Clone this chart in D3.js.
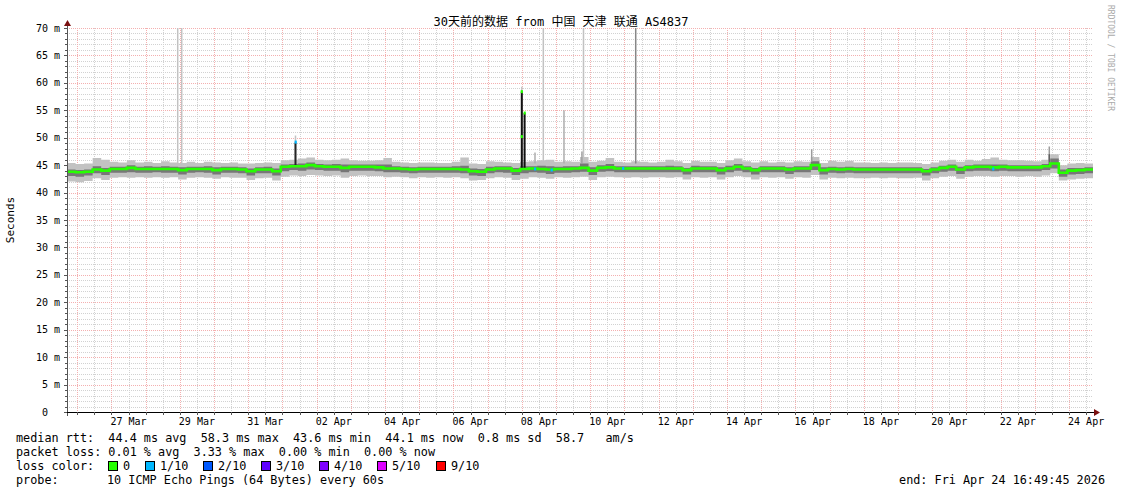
<!DOCTYPE html>
<html><head><meta charset="utf-8">
<script src="https://cdn.jsdelivr.net/npm/d3@7"></script>
<style>
html,body{margin:0;padding:0;background:#fff;}
svg text{font-family:"DejaVu Sans Mono",monospace;white-space:pre;}
</style></head><body>
<svg id="chart" width="1121" height="494"></svg>
<script>
// ---------------- DATA ----------------
const titleText = "30天前的数据 from 中国 天津 联通 AS4837";
const endStamp = [2026, 3, 24, 16, 49, 45];   // Fri Apr 24 16:49:45 2026
const spanDays = 30;
const sampleStepHours = 6;

const yTickValues = [0,5,10,15,20,25,30,35,40,45,50,55,60,65,70];
const yTickLabels = ["0  ","5 m","10 m","15 m","20 m","25 m","30 m","35 m","40 m","45 m","50 m","55 m","60 m","65 m","70 m"];
const xTickDates  = ["2026-03-27","2026-03-29","2026-03-31","2026-04-02","2026-04-04","2026-04-06","2026-04-08","2026-04-10","2026-04-12","2026-04-14","2026-04-16","2026-04-18","2026-04-20","2026-04-22","2026-04-24"];
const xTickLabels = ["27 Mar","29 Mar","31 Mar","02 Apr","04 Apr","06 Apr","08 Apr","10 Apr","12 Apr","14 Apr","16 Apr","18 Apr","20 Apr","22 Apr","24 Apr"];

// median rtt per 6-hour sample (ms)
const median = [
43.8,43.7,43.8,44.2,44.0,44.3,44.3,44.5,44.3,44.3,
44.3,44.3,44.3,44.1,44.3,44.3,44.3,44.1,44.3,44.3,
44.2,43.9,44.2,44.2,43.9,44.7,44.8,44.8,45.0,44.8,
44.7,44.7,44.5,44.7,44.7,44.7,44.6,44.4,44.4,44.3,
44.2,44.3,44.3,44.3,44.3,44.3,44.2,43.9,43.8,44.2,
44.4,44.4,44.0,44.3,44.4,44.3,44.2,44.3,44.3,44.4,
44.5,44.0,44.5,44.6,44.4,44.4,44.4,44.4,44.4,44.4,
44.4,44.4,44.1,44.4,44.4,44.4,44.1,44.4,44.7,44.4,
44.1,44.4,44.4,44.4,44.2,44.4,44.4,45.0,44.1,44.3,
44.2,44.3,44.2,44.2,44.2,44.2,44.2,44.2,44.2,44.2,
43.9,44.2,44.5,44.7,44.2,44.6,44.7,44.7,44.6,44.7,
44.6,44.6,44.6,44.6,44.8,45.3,43.6,44.0,44.1,44.2];
// fastest ping per sample
const smokeMin = [
42.0,41.9,42.1,42.6,42.3,42.7,42.8,42.7,42.8,42.7,
42.8,42.7,42.8,42.4,42.7,42.8,42.7,42.5,42.8,42.7,
42.7,42.3,42.6,42.7,42.2,42.9,43.1,43.0,43.2,43.1,
43.0,43.1,42.7,43.0,43.1,43.0,43.0,42.8,42.9,42.8,
42.6,42.8,42.7,42.8,42.7,42.8,42.6,42.2,42.3,42.6,
42.8,42.7,42.3,42.5,42.8,42.7,42.5,42.8,42.7,42.8,
42.9,42.3,42.8,42.9,42.8,42.7,42.8,42.7,42.8,42.8,
42.7,42.8,42.4,42.8,42.7,42.8,42.4,42.8,43.0,42.8,
42.4,42.8,42.7,42.8,42.5,42.8,42.7,43.2,42.4,42.7,
42.6,42.7,42.6,42.6,42.7,42.6,42.7,42.6,42.6,42.7,
42.2,42.6,42.9,43.0,42.5,42.9,43.0,43.0,42.9,43.0,
43.0,42.9,43.0,42.9,43.1,43.5,42.2,42.4,42.5,42.6];
// slowest ping per sample
const smokeMax = [
45.4,45.2,45.3,46.3,46.0,45.6,45.5,45.9,45.5,45.6,
45.4,45.7,45.5,45.4,45.6,45.4,45.6,45.5,45.4,45.5,
45.3,45.3,45.4,45.5,45.4,45.9,46.0,46.2,46.4,46.0,
45.9,46.0,46.2,45.9,45.8,45.8,45.9,46.3,45.6,45.5,
45.4,45.5,45.5,45.4,45.4,45.6,46.4,45.3,45.2,45.7,
45.6,45.5,45.4,45.6,45.7,45.9,46.0,45.6,45.7,45.6,
46.5,45.6,45.8,46.3,45.6,45.5,45.7,45.6,45.5,45.6,
46.0,45.7,45.4,45.8,45.6,45.6,45.4,45.9,46.2,45.7,
45.5,45.7,45.5,45.6,45.5,45.7,45.6,46.5,45.4,45.8,
45.6,45.8,45.5,45.5,45.4,45.5,45.4,45.5,45.5,45.4,
45.2,45.5,45.8,46.0,45.6,46.0,45.8,46.1,46.4,46.0,
45.9,45.9,45.8,45.7,46.0,47.0,45.0,45.3,45.4,45.3];
// lower / upper edge of the dense part of the pings
const coreLow = [
43.0,42.9,43.1,43.5,43.2,43.6,43.6,43.7,43.6,43.6,
43.7,43.6,43.6,43.3,43.6,43.7,43.6,43.3,43.6,43.6,
43.5,43.1,43.5,43.5,43.1,43.9,44.1,44.0,44.2,44.1,
44.0,44.0,43.7,44.0,44.0,44.0,43.9,43.7,43.7,43.6,
43.5,43.6,43.6,43.6,43.6,43.6,43.5,43.1,43.0,43.5,
43.7,43.6,43.2,43.5,43.7,43.6,43.4,43.6,43.6,43.7,
43.8,43.2,43.8,43.9,43.7,43.7,43.7,43.7,43.7,43.7,
43.7,43.7,43.3,43.7,43.7,43.7,43.3,43.7,44.0,43.7,
43.3,43.7,43.7,43.7,43.4,43.7,43.7,44.1,43.3,43.6,
43.5,43.6,43.5,43.5,43.5,43.5,43.5,43.5,43.5,43.5,
43.1,43.5,43.8,44.0,43.4,43.9,44.0,44.0,43.9,44.0,
43.9,43.9,43.9,43.9,44.1,44.4,42.9,43.3,43.4,43.5];
const coreHigh = [
44.2,44.1,44.2,44.8,44.5,44.7,44.7,45.0,44.7,44.8,
44.7,44.8,44.7,44.6,44.7,44.7,44.8,44.6,44.7,44.7,
44.6,44.4,44.6,44.7,44.4,45.1,45.2,45.3,45.5,45.2,
45.1,45.2,45.1,45.1,45.1,45.1,45.1,45.1,44.8,44.7,
44.6,44.7,44.7,44.7,44.7,44.8,44.9,44.4,44.3,44.7,
44.8,44.8,44.5,44.8,44.8,44.9,44.8,44.7,44.8,44.8,
45.3,44.6,45.0,45.2,44.8,44.8,44.8,44.8,44.8,44.8,
44.9,44.8,44.5,44.9,44.8,44.8,44.6,44.9,45.2,44.8,
44.5,44.8,44.8,44.8,44.6,44.8,44.8,45.7,44.6,44.7,
44.6,44.7,44.6,44.6,44.6,44.6,44.6,44.6,44.6,44.6,
44.3,44.6,44.9,45.1,44.7,45.0,45.1,45.1,45.1,45.1,
45.0,45.0,45.0,45.0,45.2,46.2,44.2,44.5,44.5,44.6];

// short outliers: time (days after start), base, top (ms), pings involved
const spikeDay   = [3.237,3.354,6.681,6.681,13.298,13.298,13.380,13.684,13.927,14.532,15.058,15.102,16.629,21.775,28.722,28.722];
const spikeBase  = [45.2,45.2,45.6,45.0,45.0,44.2,44.2,45.3,45.4,45.3,45.4,45.4,45.3,45.6,45.8,45.0];
const spikeTop   = [75,75,50.4,49.1,59.3,58.4,54.5,47.3,75,55.0,47.5,75,75,47.9,48.4,47.0];
const spikePings = [1,1,1,9,1,10,10,2,1,2,3,1,4,3,3,6];

// median marks shown in loss colour
const markDay   = [6.684,13.295,13.295,13.380,13.684,14.170,16.260,27.080];
const markValue = [49.2,58.4,50.2,54.5,44.3,44.1,44.4,44.3];
const markLoss  = [1,0,0,0,1,1,1,1];

const lossLabels = ["0","1/10","2/10","3/10","4/10","5/10","9/10"];
const lossColors = ["#26ff00","#00b8ff","#0059ff","#5e00ff","#7e00ff","#dd00ff","#ff0000"];

const rttStats  = ["44.4","58.3","43.6","44.1","0.8","58.7"];
const lossStats = ["0.01","3.33","0.00","0.00"];
const probeText = "10 ICMP Echo Pings (64 Bytes) every 60s";
const endText   = "end: Fri Apr 24 16:49:45 2026";

// ---------------- CHART ----------------
const svg = d3.select("#chart");
const L = 67, R = 1093, T = 28, B = 412;
const endTime = new Date(Date.UTC(...endStamp));
const startTime = new Date(endTime.getTime() - spanDays * 864e5);
const dayMs = 864e5;
const x = d3.scaleUtc().domain([startTime, endTime]).range([L, R]);
const y = d3.scaleLinear().domain([0, 70]).range([B, T]);
const tOf = d => new Date(startTime.getTime() + d * dayMs);

svg.append("rect").attr("width",1121).attr("height",494).attr("fill","#fff");

// grid
const g = svg.append("g").attr("shape-rendering","crispEdges");
d3.range(0, 71, 1).filter(v => v % 5 !== 0).forEach(v => {
  g.append("line").attr("x1",L).attr("x2",R).attr("y1",Math.round(y(v))+0.5).attr("y2",Math.round(y(v))+0.5)
   .attr("stroke","#d2d2d2").attr("stroke-dasharray","1,1");
});
const noons = d3.utcDay.range(startTime, endTime).map(d => d3.utcHour.offset(d, 12)).filter(d => d > startTime && d < endTime);
const nights = d3.utcDay.range(startTime, endTime).filter(d => d > startTime);
noons.forEach(d => {
  g.append("line").attr("y1",T).attr("y2",B).attr("x1",Math.round(x(d))+0.5).attr("x2",Math.round(x(d))+0.5)
   .attr("stroke","#d2d2d2").attr("stroke-dasharray","1,1");
});
yTickValues.filter(v => v > 0).forEach(v => {
  g.append("line").attr("x1",L).attr("x2",R).attr("y1",Math.round(y(v))+0.5).attr("y2",Math.round(y(v))+0.5)
   .attr("stroke","#f4b0b0").attr("stroke-dasharray","1,1");
});
nights.forEach(d => {
  g.append("line").attr("y1",T).attr("y2",B).attr("x1",Math.round(x(d))+0.5).attr("x2",Math.round(x(d))+0.5)
   .attr("stroke","#f4b0b0").attr("stroke-dasharray","1,1");
});

// data
svg.append("clipPath").attr("id","clip").append("rect").attr("x",L).attr("y",T).attr("width",R-L).attr("height",B-T);
const data = svg.append("g").attr("clip-path","url(#clip)");
const pts = median.map((m,i) => ({t: new Date(startTime.getTime() + i*sampleStepHours*36e5), m, lo: smokeMin[i], hi: smokeMax[i], cl: coreLow[i], ch: coreHigh[i]}));
pts.push(Object.assign({}, pts[pts.length-1], {t: endTime}));

data.append("path").datum(pts)
  .attr("d", d3.area().curve(d3.curveStepAfter).x(d => x(d.t)).y0(d => y(d.lo)).y1(d => y(d.hi)))
  .attr("fill","#c2c2c2");
data.append("path").datum(pts)
  .attr("d", d3.area().curve(d3.curveStepAfter).x(d => x(d.t)).y0(d => y(d.cl)).y1(d => y(d.ch)))
  .attr("fill","#777777");

const pingShade = d3.scaleLinear().domain([1, 10]).range(["#c2c2c2", "#111111"]);
spikeDay.forEach((d,i) => {
  const xs = x(tOf(d));
  const w = spikePings[i] >= 9 ? 2 : 1.5;
  data.append("rect").attr("x", xs - w/2).attr("width", w)
    .attr("y", y(spikeTop[i])).attr("height", y(spikeBase[i]) - y(spikeTop[i]))
    .attr("fill", pingShade(spikePings[i]));
});

data.append("path").datum(pts)
  .attr("d", d3.line().curve(d3.curveStepAfter).x(d => x(d.t)).y(d => y(d.m)))
  .attr("fill","none").attr("stroke", lossColors[0]).attr("stroke-width", 2.6);

markDay.forEach((d,i) => {
  data.append("rect").attr("x", x(tOf(d)) - 1).attr("width", 2.2)
    .attr("y", y(markValue[i]) - 1.5).attr("height", 3)
    .attr("fill", lossColors[markLoss[i]]);
});

// axes
const ax = svg.append("g").attr("shape-rendering","crispEdges");
ax.append("line").attr("x1",L+0.5).attr("x2",L+0.5).attr("y1",B+4).attr("y2",T-6).attr("stroke","#555");
ax.append("line").attr("x1",L-3).attr("x2",R+2).attr("y1",B+0.5).attr("y2",B+0.5).attr("stroke","#000");
d3.range(0, 71, 1).forEach(v => {
  const len = v % 5 === 0 ? 3 : 2;
  ax.append("line").attr("x1",L-len).attr("x2",L).attr("y1",Math.round(y(v))+0.5).attr("y2",Math.round(y(v))+0.5).attr("stroke","#555");
});
noons.concat(nights).forEach(d => {
  ax.append("line").attr("y1",B).attr("y2",B+3).attr("x1",Math.round(x(d))+0.5).attr("x2",Math.round(x(d))+0.5).attr("stroke","#555");
});
svg.append("path").attr("d",`M${L-3},${T-2} L${L+4},${T-2} L${L+0.5},${T-8} Z`).attr("fill","#7a1010");
svg.append("path").attr("d",`M${R+1},${B-3} L${R+1},${B+4} L${R+7},${B+0.5} Z`).attr("fill","#7a1010");

// tick labels
yTickValues.forEach((v,i) => {
  svg.append("text").attr("x",60).attr("y",y(v)+3.5).attr("text-anchor","end")
    .attr("font-size","10px").attr("fill","#000").text(yTickLabels[i]);
});
xTickDates.forEach((s,i) => {
  const d = d3.utcHour.offset(new Date(s + "T00:00:00Z"), 12);
  svg.append("text").attr("x",x(d)).attr("y",425).attr("text-anchor","middle")
    .attr("font-size","10px").attr("fill","#000").text(xTickLabels[i]);
});

// title / labels
svg.append("text").attr("x",561).attr("y",26).attr("text-anchor","middle")
  .attr("font-size","12px").style("font-family",'"DejaVu Sans Mono","Noto Sans CJK SC",monospace')
  .attr("fill","#000").text(titleText);
svg.append("text").attr("transform","translate(14,220) rotate(-90)").attr("text-anchor","middle")
  .attr("font-size","11px").attr("fill","#000").text("Seconds");
svg.append("text").attr("transform","translate(1108,5) rotate(90)").attr("text-anchor","start")
  .attr("font-size","8px").attr("fill","#aaa").text("RRDTOOL / TOBI OETIKER");

// legend
const lf = "11.8px";
svg.append("text").attr("x",16).attr("y",442).attr("font-size",lf).attr("fill","#000")
  .text(`median rtt:  ${rttStats[0]} ms avg  ${rttStats[1]} ms max  ${rttStats[2]} ms min  ${rttStats[3]} ms now  ${rttStats[4]} ms sd  ${rttStats[5]}   am/s`);
svg.append("text").attr("x",16).attr("y",456).attr("font-size",lf).attr("fill","#000")
  .text(`packet loss: ${lossStats[0]} % avg  ${lossStats[1]} % max  ${lossStats[2]} % min  ${lossStats[3]} % now`);
svg.append("text").attr("x",16).attr("y",470).attr("font-size",lf).attr("fill","#000").text("loss color:");
const boxX = [108,145,203,261,319,377,436];
lossLabels.forEach((lab,i) => {
  svg.append("rect").attr("x",boxX[i]+0.5).attr("y",461.5).attr("width",9).attr("height",9)
    .attr("fill",lossColors[i]).attr("stroke","#000").attr("stroke-width",1).attr("shape-rendering","crispEdges");
  svg.append("text").attr("x",boxX[i]+15).attr("y",470).attr("font-size",lf).attr("fill","#000").text(lab);
});
svg.append("text").attr("x",16).attr("y",484).attr("font-size",lf).attr("fill","#000").text("probe:");
svg.append("text").attr("x",107).attr("y",484).attr("font-size",lf).attr("fill","#000").text(probeText);
svg.append("text").attr("x",1105).attr("y",484).attr("text-anchor","end").attr("font-size",lf).attr("fill","#000").text(endText);
</script>
</body></html>
